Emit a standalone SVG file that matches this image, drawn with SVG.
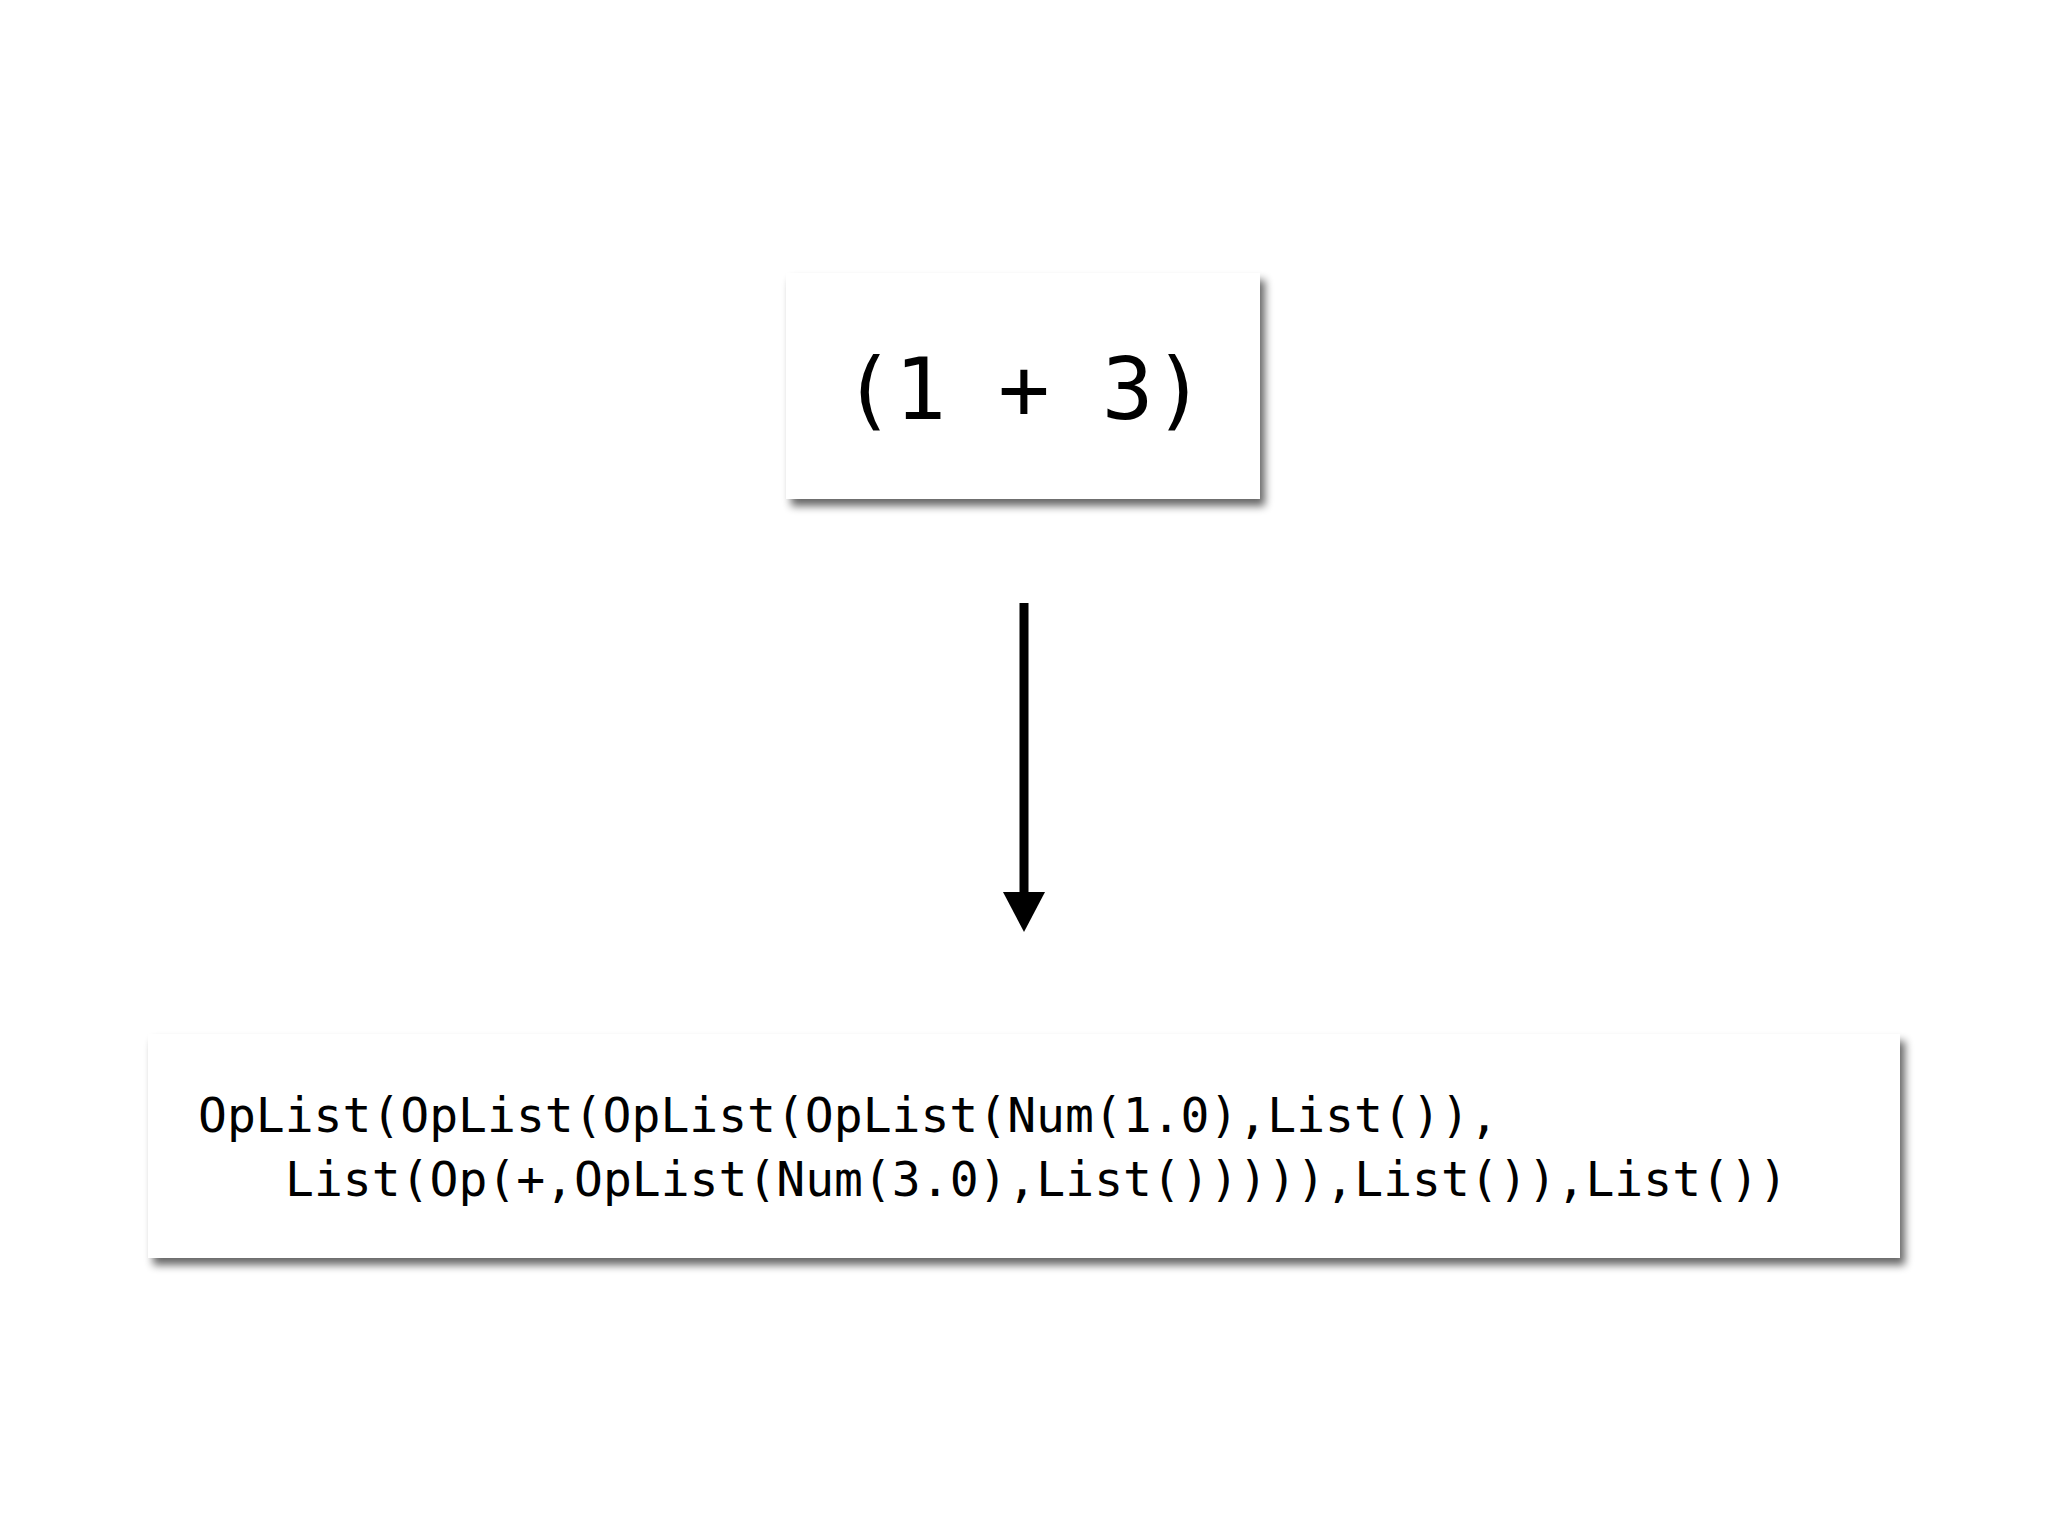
<svg xmlns="http://www.w3.org/2000/svg" width="2048" height="1536" viewBox="0 0 2048 1536">
<style>
.box{fill:#fff;filter:url(#sh)}
.mono{font-family:"DejaVu Sans Mono",monospace;fill:#000}
</style>
<defs>
<filter id="sh" x="-10%" y="-10%" width="120%" height="130%">
<feGaussianBlur in="SourceAlpha" stdDeviation="4"/>
<feOffset dx="5" dy="7" result="b"/>
<feComponentTransfer><feFuncA type="linear" slope="0.6"/></feComponentTransfer>
<feMerge><feMergeNode/><feMergeNode in="SourceGraphic"/></feMerge>
</filter>
</defs>
<rect width="2048" height="1536" fill="#fff"/>
<g id="expr">
<rect class="box" x="786" y="273" width="474" height="226"/>
<text class="mono" x="1024" y="419" font-size="86" text-anchor="middle">(1 + 3)</text>
</g>
<g id="ast">
<rect class="box" x="148" y="1034" width="1752" height="224"/>
<text class="mono" x="198" y="1132" font-size="48">OpList(OpList(OpList(OpList(Num(1.0),List()),</text>
<text class="mono" x="285" y="1196" font-size="48">List(Op(+,OpList(Num(3.0),List())))),List()),List())</text>
</g>
<g id="connectors">
<line x1="1024" y1="603" x2="1024" y2="892" stroke="#000" stroke-width="9"/>
<path d="M1003,892 L1045,892 L1024,932 Z" fill="#000"/>
</g>
</svg>
